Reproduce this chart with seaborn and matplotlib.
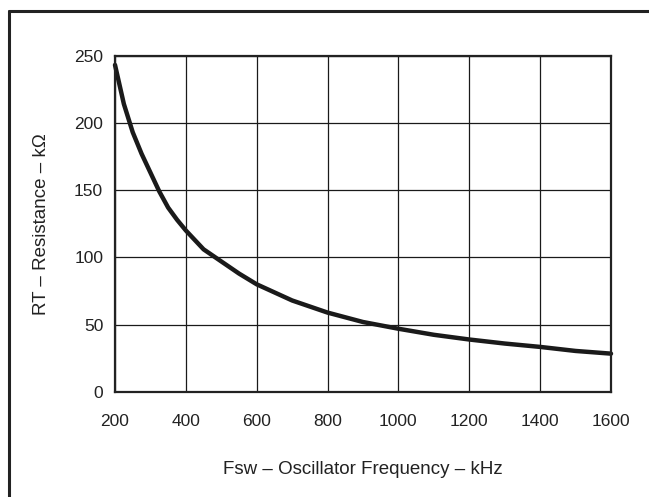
import matplotlib
matplotlib.use("Agg")
import matplotlib.pyplot as plt
from matplotlib.lines import Line2D
import seaborn as sns
import pandas as pd

# Timing resistor vs. switching frequency
freq_khz = [200, 225, 250, 275, 300, 325, 350, 375, 400, 450, 500, 550, 600,
            700, 800, 900, 1000, 1100, 1200, 1300, 1400, 1500, 1600]
rt_kohm = [243, 214, 193, 177, 163, 149, 137, 128, 120, 106, 97, 88, 80,
           68, 59, 52, 47, 42.5, 39, 36, 33.5, 30.5, 28.5]

x_ticks = [200, 400, 600, 800, 1000, 1200, 1400, 1600]
y_ticks = [0, 50, 100, 150, 200, 250]

sns.set_style("white")
plt.rcParams["font.family"] = ["Liberation Sans", "DejaVu Sans"]

df = pd.DataFrame({"f": freq_khz, "rt": rt_kohm})

fig = plt.figure(figsize=(6.49, 4.97), dpi=100)
ax = fig.add_axes([115 / 649, 1 - 392 / 497, (611 - 115) / 649, (392 - 55.5) / 497])

sns.lineplot(data=df, x="f", y="rt", ax=ax, color="#1a1a1a", linewidth=3.2,
             solid_joinstyle="round", solid_capstyle="round", clip_on=False)

ax.set_xlim(200, 1600)
ax.set_ylim(0, 250)
ax.set_xticks(x_ticks)
ax.set_yticks(y_ticks)
ax.grid(True, color="#1a1a1a", linewidth=0.9)
ax.tick_params(axis="both", length=0, labelsize=12.5, colors="#222222")
ax.tick_params(axis="x", pad=16)
ax.tick_params(axis="y", pad=8.5)
for s in ax.spines.values():
    s.set_color("#222222")
    s.set_linewidth(1.6)

ax.set_xlabel("Fsw – Oscillator Frequency – kHz", fontsize=13.5, color="#222222", labelpad=23)
ax.set_ylabel("RT – Resistance – kΩ", fontsize=13.5, color="#222222", labelpad=17)

# frame around the figure (top and left edges)
fig.add_artist(Line2D([9 / 649, 9 / 649], [0, 1 - 11 / 497], transform=fig.transFigure,
                      color="#222222", linewidth=2.2))
fig.add_artist(Line2D([9 / 649, 1], [1 - 11 / 497, 1 - 11 / 497], transform=fig.transFigure,
                      color="#222222", linewidth=2.2))

fig.savefig("out.png", dpi=100)
